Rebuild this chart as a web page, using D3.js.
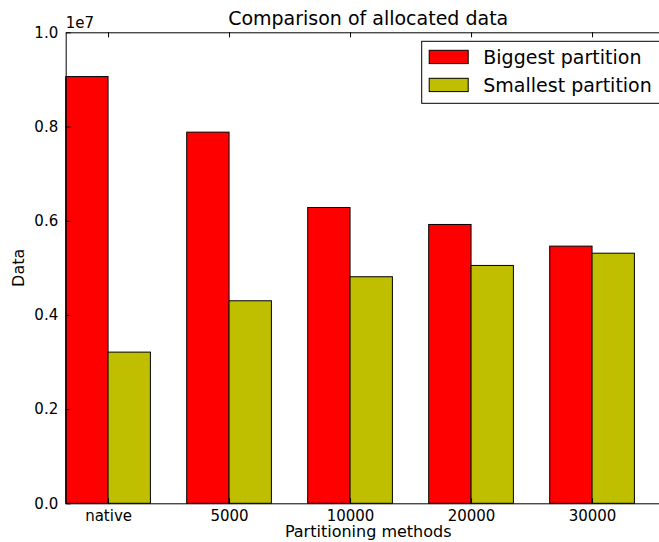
<!DOCTYPE html>
<html>
<head>
<meta charset="utf-8">
<script src="https://cdn.jsdelivr.net/npm/d3@7"></script>
<style>
  body { margin: 0; background: #fff; }
  text { font-family: "DejaVu Sans", sans-serif; fill: #000; }
</style>
</head>
<body>
<div id="chart"></div>
<script>
const categories = ["native", "5000", "10000", "20000", "30000"];
const biggest = [9.06e6, 7.88e6, 6.28e6, 5.92e6, 5.46e6];
const smallest = [3.21e6, 4.30e6, 4.81e6, 5.05e6, 5.31e6];
const yTicks = [0, 0.2e7, 0.4e7, 0.6e7, 0.8e7, 1.0e7];
const seriesNames = ["Biggest partition", "Smallest partition"];
const colors = ["#ff0000", "#bfbf00"];

const W = 659, H = 542;
const plot = { left: 65.7, right: 670.7, top: 32.3, bottom: 503.3 };
const barW = 0.35;

const x = d3.scaleLinear().domain([0, 5]).range([plot.left, plot.right]);
const y = d3.scaleLinear().domain([0, 1e7]).range([plot.bottom, plot.top]);

const svg = d3
  .select("#chart")
  .append("svg")
  .attr("width", W)
  .attr("height", H);

// bars
const series = [biggest, smallest];
series.forEach((vals, s) => {
  svg
    .append("g")
    .selectAll("rect")
    .data(vals)
    .join("rect")
    .attr("x", (d, i) => x(i + s * barW))
    .attr("y", (d) => y(d))
    .attr("width", x(barW) - x(0))
    .attr("height", (d) => y(0) - y(d))
    .attr("fill", colors[s])
    .attr("stroke", "#000")
    .attr("stroke-width", 1);
});

// axes
const fmt = (d) => (d / 1e7).toFixed(1);
const tickPos = categories.map((c, i) => i + barW);

const yAxis = svg
  .append("g")
  .attr("transform", `translate(${plot.left},0)`)
  .call(d3.axisLeft(y).tickValues(yTicks).tickFormat(fmt).tickSizeInner(-5).tickSizeOuter(0).tickPadding(7.5));

svg
  .append("g")
  .attr("transform", `translate(${plot.right},0)`)
  .call(d3.axisRight(y).tickValues(yTicks).tickFormat("").tickSizeInner(-5).tickSizeOuter(0));

const xAxis = svg
  .append("g")
  .attr("transform", `translate(0,${plot.bottom})`)
  .call(
    d3.axisBottom(x)
      .tickValues(tickPos)
      .tickFormat((d, i) => categories[i])
      .tickSizeInner(-5)
      .tickSizeOuter(0)
      .tickPadding(7)
  );

svg
  .append("g")
  .attr("transform", `translate(0,${plot.top})`)
  .call(d3.axisTop(x).tickValues(tickPos).tickFormat("").tickSizeInner(-5).tickSizeOuter(0));

svg.selectAll(".domain").attr("stroke", "#000").attr("stroke-width", 1);
svg.selectAll(".tick line").attr("stroke", "#000");
yAxis.selectAll("text").attr("font-size", 15).attr("font-family", "DejaVu Sans");
xAxis.selectAll("text").attr("font-size", 15).attr("font-family", "DejaVu Sans");

// offset text
svg.append("text").attr("x", plot.left).attr("y", 28).attr("font-size", 15).text("1e7");

// title and labels
svg
  .append("text")
  .attr("x", (plot.left + plot.right) / 2)
  .attr("y", 25)
  .attr("text-anchor", "middle")
  .attr("font-size", 19)
  .text("Comparison of allocated data");

svg
  .append("text")
  .attr("x", (plot.left + plot.right) / 2)
  .attr("y", 537)
  .attr("text-anchor", "middle")
  .attr("font-size", 16)
  .text("Partitioning methods");

svg
  .append("text")
  .attr("transform", `translate(24,${(plot.top + plot.bottom) / 2}) rotate(-90)`)
  .attr("text-anchor", "middle")
  .attr("font-size", 16)
  .text("Data");

// legend
const legend = svg.append("g").attr("transform", "translate(421.7,41.3)");
legend
  .append("rect")
  .attr("width", 242)
  .attr("height", 62)
  .attr("fill", "#fff")
  .attr("stroke", "#000");

seriesNames.forEach((name, i) => {
  legend
    .append("rect")
    .attr("x", 7.5)
    .attr("y", 9 + i * 28)
    .attr("width", 39)
    .attr("height", 13.3)
    .attr("fill", colors[i])
    .attr("stroke", "#000");
  legend
    .append("text")
    .attr("x", 61.6)
    .attr("y", 22.5 + i * 28)
    .attr("font-size", 19)
    .text(name);
});
</script>
</body>
</html>
